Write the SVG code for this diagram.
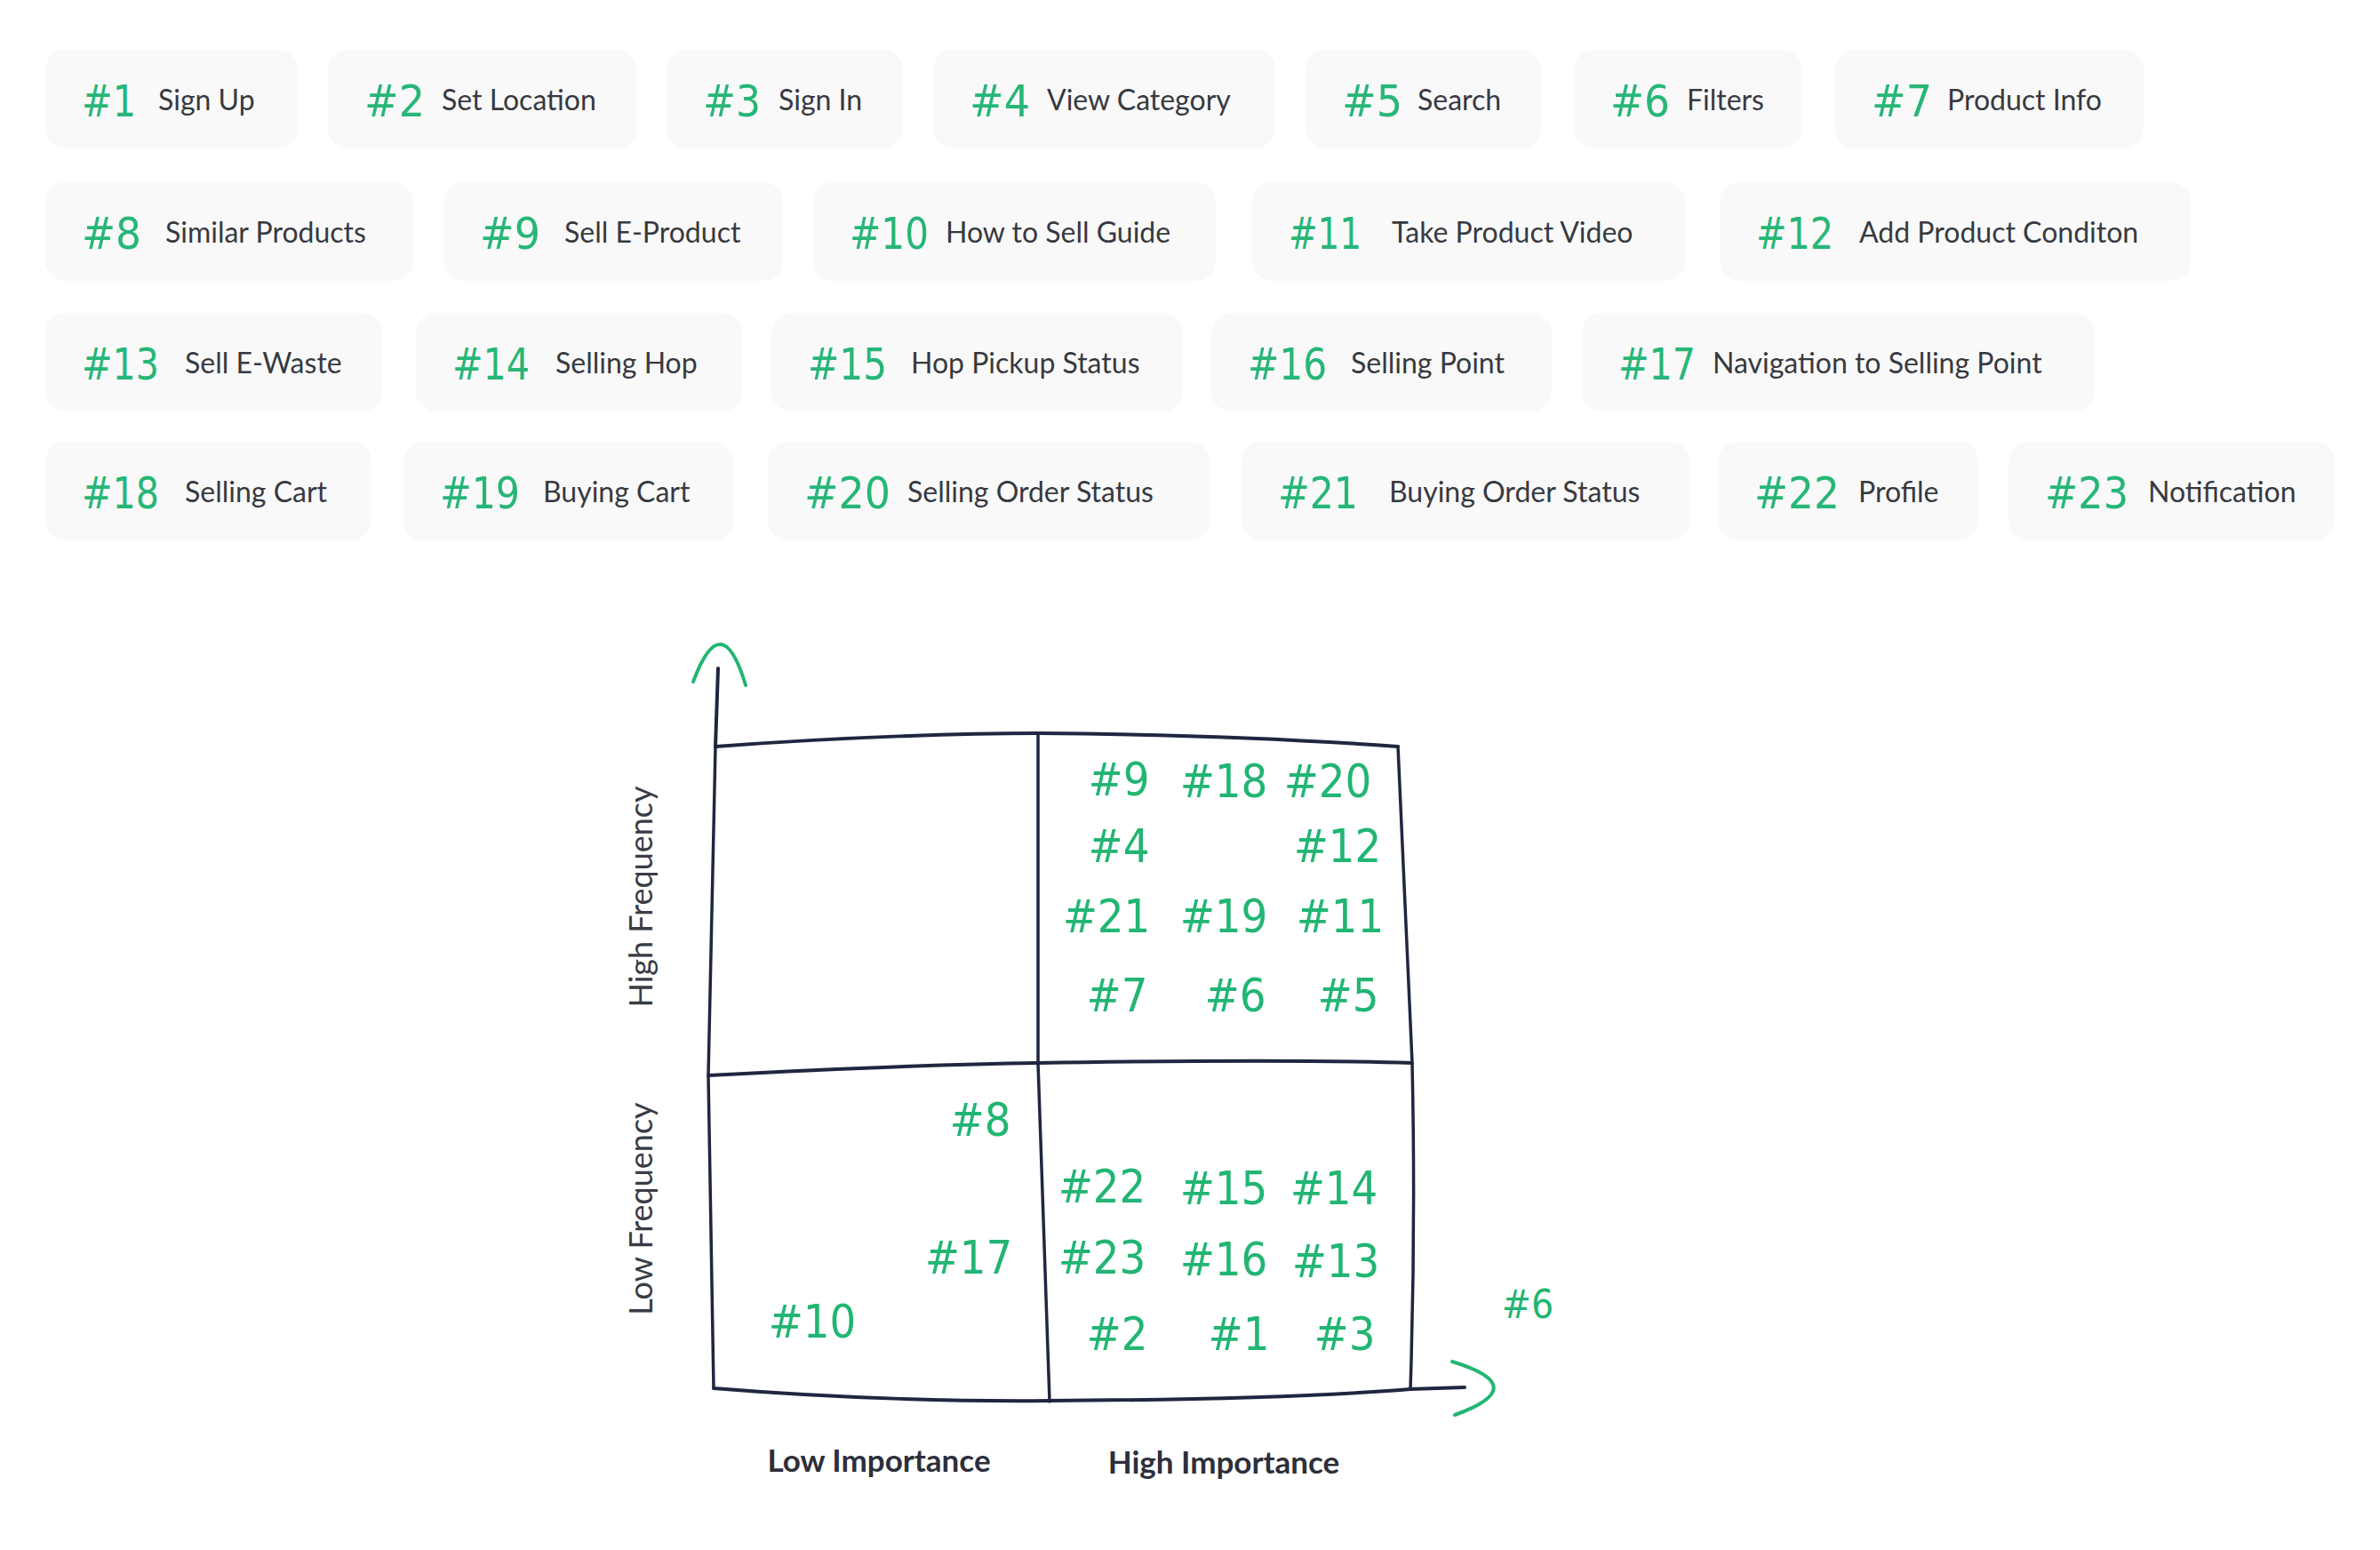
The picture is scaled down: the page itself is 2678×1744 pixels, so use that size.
<svg xmlns="http://www.w3.org/2000/svg" width="2678" height="1744" viewBox="0 0 2678 1744">
<style>
.box{fill:#f9f9f9}
.num{font-family:"DejaVu Sans Condensed","DejaVu Sans","Liberation Sans",sans-serif;font-stretch:condensed;font-size:50px;fill:#27b677}
.lbl{font-family:Lato,"Liberation Sans",sans-serif;font-size:32px;fill:#373941}
.cn{font-family:"DejaVu Sans Condensed","DejaVu Sans","Liberation Sans",sans-serif;font-stretch:condensed;font-size:52px;fill:#22b573;text-anchor:middle}
.ax{font-family:Lato,"Liberation Sans",sans-serif;font-size:35px;fill:#2d2f3a}
.grid{fill:none;stroke:#1f2740;stroke-width:4;stroke-linecap:round;stroke-linejoin:round}
.arr{fill:none;stroke:#22b573;stroke-width:4;stroke-linecap:round}
</style>
<rect width="2678" height="1744" fill="#ffffff"/>
<g id="legend">
<g id="n1"><rect class="box" x="51" y="56" width="284" height="111" rx="22"/><text class="num" x="92" y="131" textLength="61" lengthAdjust="spacingAndGlyphs">#1</text><text class="lbl" x="178" y="124">Sign Up</text></g>
<g id="n2"><rect class="box" x="369" y="56" width="347" height="111" rx="22"/><text class="num" x="410" y="131" textLength="68" lengthAdjust="spacingAndGlyphs">#2</text><text class="lbl" x="497" y="124">Set Location</text></g>
<g id="n3"><rect class="box" x="750" y="56" width="266" height="111" rx="22"/><text class="num" x="791" y="131" textLength="65" lengthAdjust="spacingAndGlyphs">#3</text><text class="lbl" x="876" y="124">Sign In</text></g>
<g id="n4"><rect class="box" x="1050" y="56" width="385" height="111" rx="22"/><text class="num" x="1091" y="131" textLength="68" lengthAdjust="spacingAndGlyphs">#4</text><text class="lbl" x="1178" y="124">View Category</text></g>
<g id="n5"><rect class="box" x="1469" y="56" width="265" height="111" rx="22"/><text class="num" x="1510" y="131" textLength="68" lengthAdjust="spacingAndGlyphs">#5</text><text class="lbl" x="1595" y="124">Search</text></g>
<g id="n6"><rect class="box" x="1771" y="56" width="256" height="111" rx="22"/><text class="num" x="1812" y="131" textLength="67" lengthAdjust="spacingAndGlyphs">#6</text><text class="lbl" x="1898" y="124">Filters</text></g>
<g id="n7"><rect class="box" x="2065" y="56" width="347" height="111" rx="22"/><text class="num" x="2106" y="131" textLength="68" lengthAdjust="spacingAndGlyphs">#7</text><text class="lbl" x="2191" y="124">Product Info</text></g>

<g id="n8"><rect class="box" x="51" y="205" width="414" height="111" rx="22"/><text class="num" x="92" y="280" textLength="67" lengthAdjust="spacingAndGlyphs">#8</text><text class="lbl" x="186" y="273">Similar Products</text></g>
<g id="n9"><rect class="box" x="499" y="205" width="382" height="111" rx="22"/><text class="num" x="540" y="280" textLength="68" lengthAdjust="spacingAndGlyphs">#9</text><text class="lbl" x="635" y="273">Sell E-Product</text></g>
<g id="n10"><rect class="box" x="915" y="205" width="453" height="111" rx="22"/><text class="num" x="956" y="280" textLength="89" lengthAdjust="spacingAndGlyphs">#10</text><text class="lbl" x="1064" y="273">How to Sell Guide</text></g>
<g id="n11"><rect class="box" x="1409" y="205" width="487" height="111" rx="22"/><text class="num" x="1450" y="280" textLength="82" lengthAdjust="spacingAndGlyphs">#11</text><text class="lbl" x="1566" y="273">Take Product Video</text></g>
<g id="n12"><rect class="box" x="1935" y="205" width="530" height="111" rx="22"/><text class="num" x="1976" y="280" textLength="87" lengthAdjust="spacingAndGlyphs">#12</text><text class="lbl" x="2092" y="273">Add Product Conditon</text></g>

<g id="n13"><rect class="box" x="51" y="352" width="379" height="111" rx="22"/><text class="num" x="92" y="427" textLength="87" lengthAdjust="spacingAndGlyphs">#13</text><text class="lbl" x="208" y="420">Sell E-Waste</text></g>
<g id="n14"><rect class="box" x="468" y="352" width="367" height="111" rx="22"/><text class="num" x="509" y="427" textLength="87" lengthAdjust="spacingAndGlyphs">#14</text><text class="lbl" x="625" y="420">Selling Hop</text></g>
<g id="n15"><rect class="box" x="868" y="352" width="463" height="111" rx="22"/><text class="num" x="909" y="427" textLength="89" lengthAdjust="spacingAndGlyphs">#15</text><text class="lbl" x="1025" y="420">Hop Pickup Status</text></g>
<g id="n16"><rect class="box" x="1363" y="352" width="383" height="111" rx="22"/><text class="num" x="1404" y="427" textLength="89" lengthAdjust="spacingAndGlyphs">#16</text><text class="lbl" x="1520" y="420">Selling Point</text></g>
<g id="n17"><rect class="box" x="1780" y="352" width="577" height="111" rx="22"/><text class="num" x="1821" y="427" textLength="87" lengthAdjust="spacingAndGlyphs">#17</text><text class="lbl" x="1927" y="420">Navigation to Selling Point</text></g>

<g id="n18"><rect class="box" x="51" y="497" width="367" height="111" rx="22"/><text class="num" x="92" y="572" textLength="87" lengthAdjust="spacingAndGlyphs">#18</text><text class="lbl" x="208" y="565">Selling Cart</text></g>
<g id="n19"><rect class="box" x="454" y="497" width="371" height="111" rx="22"/><text class="num" x="495" y="572" textLength="90" lengthAdjust="spacingAndGlyphs">#19</text><text class="lbl" x="611" y="565">Buying Cart</text></g>
<g id="n20"><rect class="box" x="864" y="497" width="497" height="111" rx="22"/><text class="num" x="905" y="572" textLength="97" lengthAdjust="spacingAndGlyphs">#20</text><text class="lbl" x="1021" y="565">Selling Order Status</text></g>
<g id="n21"><rect class="box" x="1397" y="497" width="504" height="111" rx="22"/><text class="num" x="1438" y="572" textLength="90" lengthAdjust="spacingAndGlyphs">#21</text><text class="lbl" x="1563" y="565">Buying Order Status</text></g>
<g id="n22"><rect class="box" x="1933" y="497" width="293" height="111" rx="22"/><text class="num" x="1974" y="572" textLength="96" lengthAdjust="spacingAndGlyphs">#22</text><text class="lbl" x="2091" y="565">Profile</text></g>
<g id="n23"><rect class="box" x="2260" y="497" width="367" height="111" rx="22"/><text class="num" x="2301" y="572" textLength="94" lengthAdjust="spacingAndGlyphs">#23</text><text class="lbl" x="2417" y="565">Notification</text></g>
</g>

<g id="connectors">
<path class="grid" d="M808,752 L805,840"/>
<path class="grid" d="M805,840 C950,829 1090,825 1168,825 C1300,826 1450,831 1573,840"/>
<path class="grid" d="M805,840 L797,1210 L803,1562" style="stroke-width:3.5"/>
<path class="grid" d="M1168,825 L1168,1196 L1181,1577" style="stroke-width:3.5"/>
<path class="grid" d="M1573,840 L1589,1196 Q1593,1380 1587,1563" style="stroke-width:3.5"/>
<path class="grid" d="M797,1210 C950,1202 1090,1197 1168,1196 C1350,1193 1500,1193 1589,1196"/>
<path class="grid" d="M803,1562 C950,1574 1090,1577 1181,1576 C1350,1575 1500,1570 1587,1563 L1648,1561"/>
<path class="arr" d="M780,767 Q812,681 839,771"/>
<path class="arr" d="M1634,1532 Q1726,1560 1637,1592"/>
</g>

<g id="chart-labels">
<text class="cn" x="1259" y="895">#9</text>
<text class="cn" x="1377" y="897">#18</text>
<text class="cn" x="1494" y="897">#20</text>
<text class="cn" x="1259" y="970">#4</text>
<text class="cn" x="1505" y="970">#12</text>
<text class="cn" x="1245" y="1049">#21</text>
<text class="cn" x="1377" y="1049">#19</text>
<text class="cn" x="1508" y="1049">#11</text>
<text class="cn" x="1257" y="1138">#7</text>
<text class="cn" x="1390" y="1138">#6</text>
<text class="cn" x="1517" y="1138">#5</text>
<text class="cn" x="1103" y="1278">#8</text>
<text class="cn" x="1090" y="1433">#17</text>
<text class="cn" x="914" y="1505">#10</text>
<text class="cn" x="1240" y="1353">#22</text>
<text class="cn" x="1377" y="1355">#15</text>
<text class="cn" x="1501" y="1355">#14</text>
<text class="cn" x="1240" y="1433">#23</text>
<text class="cn" x="1377" y="1435">#16</text>
<text class="cn" x="1503" y="1437">#13</text>
<text class="cn" x="1257" y="1519">#2</text>
<text class="cn" x="1394" y="1519">#1</text>
<text class="cn" x="1513" y="1519">#3</text>
<text class="cn" x="1719" y="1483" style="font-size:44px">#6</text>
</g>

<g id="axis-labels">
<text class="ax" x="989" y="1656" text-anchor="middle" font-weight="700">Low Importance</text>
<text class="ax" x="1377" y="1658" text-anchor="middle" font-weight="700">High Importance</text>
<text class="ax" transform="translate(734,1009) rotate(-90)" text-anchor="middle" style="font-size:36px;fill:#3a3c45">High Frequency</text>
<text class="ax" transform="translate(734,1360) rotate(-90)" text-anchor="middle" style="font-size:36px;fill:#3a3c45">Low Frequency</text>
</g>
</svg>
